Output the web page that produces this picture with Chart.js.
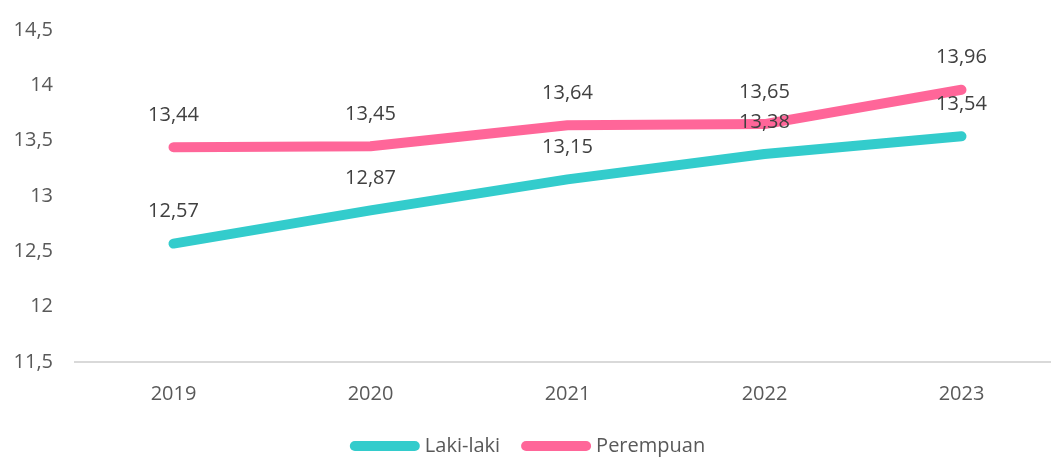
<!DOCTYPE html>
<html>
<head>
<meta charset="utf-8">
<script src="https://cdn.jsdelivr.net/npm/chart.js@4.4.0/dist/chart.umd.min.js"></script>
<style>
  html, body { margin: 0; padding: 0; background: #fff; overflow: hidden; }
  #wrap { width: 1060px; height: 470px; margin-top: -4px; }
</style>
</head>
<body>
<div id="wrap"><canvas id="grafik"></canvas></div>
<script>
// data
const tahun = ['2019', '2020', '2021', '2022', '2023'];
const lakiLaki = [12.57, 12.87, 13.15, 13.38, 13.54];
const perempuan = [13.44, 13.45, 13.64, 13.65, 13.96];
const yMin = 11.5;
const yMax = 14.5;
const yStep = 0.5;

const koma = v => String(v).replace('.', ',');
const huruf = { family: '"Open Sans", sans-serif', size: 20 };

// plugin kecil untuk label nilai di atas titik
const labelNilai = {
  id: 'labelNilai',
  afterDatasetsDraw(chart) {
    const ctx = chart.ctx;
    ctx.save();
    ctx.font = '20px "Open Sans", sans-serif';
    ctx.fillStyle = '#404040';
    ctx.textAlign = 'center';
    ctx.textBaseline = 'middle';
    chart.data.datasets.forEach((ds, i) => {
      const meta = chart.getDatasetMeta(i);
      meta.data.forEach((pt, j) => {
        ctx.fillText(koma(ds.data[j].toFixed(2)), pt.x, pt.y - 32);
      });
    });
    ctx.restore();
  }
};

new Chart(document.getElementById('grafik'), {
  type: 'line',
  data: {
    labels: tahun,
    datasets: [
      {
        label: 'Laki-laki',
        data: lakiLaki,
        borderColor: '#33CCCC',
        backgroundColor: '#33CCCC',
        borderWidth: 10,
        borderCapStyle: 'round',
        borderJoinStyle: 'round',
        pointRadius: 0,
        tension: 0
      },
      {
        label: 'Perempuan',
        data: perempuan,
        borderColor: '#FF6699',
        backgroundColor: '#FF6699',
        borderWidth: 10,
        borderCapStyle: 'round',
        borderJoinStyle: 'round',
        pointRadius: 0,
        tension: 0
      }
    ]
  },
  options: {
    responsive: true,
    maintainAspectRatio: false,
    animation: false,
    layout: { padding: { top: 12, bottom: 0, left: 0, right: 0 } },
    scales: {
      x: {
        offset: true,
        grid: { display: false, drawTicks: false },
        border: { display: true, color: '#D9D9D9', width: 2 },
        ticks: { color: '#595959', font: huruf, padding: 20 },
        afterFit(scale) { scale.height = 48; }
      },
      y: {
        min: yMin,
        max: yMax,
        grid: { display: false, drawTicks: false },
        border: { display: false },
        ticks: {
          stepSize: yStep,
          color: '#595959',
          font: huruf,
          padding: 22,
          callback: v => koma(v)
        },
        afterFit(scale) { scale.width = 75; }
      }
    },
    plugins: {
      tooltip: { enabled: false },
      legend: {
        position: 'bottom',
        labels: {
          usePointStyle: true,
          pointStyle: 'line',
          pointStyleWidth: 60,
          color: '#595959',
          font: huruf,
          padding: 26,
          generateLabels(chart) {
            const items = Chart.defaults.plugins.legend.labels.generateLabels(chart);
            items.forEach(it => { it.lineCap = 'round'; });
            return items;
          }
        }
      }
    }
  },
  plugins: [labelNilai]
});
</script>
</body>
</html>
